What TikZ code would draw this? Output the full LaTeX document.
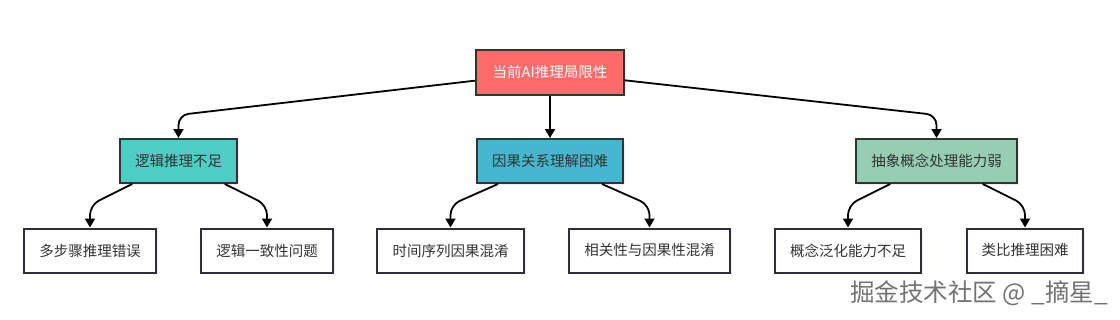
\documentclass[tikz,border=0pt]{standalone}
\usepackage{fontspec}
\setmainfont{Noto Sans CJK SC}
\usetikzlibrary{arrows.meta,shadows,calc}
\definecolor{rootc}{HTML}{FF6B6B}
\definecolor{tealc}{HTML}{4ECDC4}
\definecolor{bluec}{HTML}{45B7D1}
\definecolor{mintc}{HTML}{96CEB4}
\definecolor{bordc}{HTML}{333333}
\definecolor{leafb}{HTML}{2E2E3E}
\definecolor{txtc}{HTML}{333333}
\tikzset{
  box/.style={draw=bordc, line width=2pt, inner sep=0pt, font=\fontsize{14.5}{16}\selectfont,
    text=txtc, drop shadow={shadow xshift=1.5pt, shadow yshift=-1.5pt, opacity=0.12}},
  rootbox/.style={box, fill=rootc, text=white, minimum width=148pt, minimum height=45pt},
  midbox/.style={box, minimum height=44pt},
  leafbox/.style={box, draw=leafb, fill=white, minimum height=44pt},
  conn/.style={draw=black, line width=1.8pt, rounded corners=10pt,
    -{Triangle[length=9pt,width=10pt]}},
}
\begin{document}
\begin{tikzpicture}[x=1pt,y=-1pt]
\useasboundingbox (0,0) rectangle (1120,319);
\fill[white] (0,0) rectangle (1120,319);
% root
\node[rootbox] (root) at (550,72) {当前AI推理局限性};
% level 2
\node[midbox, fill=tealc, minimum width=117pt] (l2a) at (178.5,161) {逻辑推理不足};
\node[midbox, fill=bluec, minimum width=146pt] (l2b) at (550,161) {因果关系理解困难};
\node[midbox, fill=mintc, minimum width=161pt] (l2c) at (936.5,161) {抽象概念处理能力弱};
% level 3
\node[leafbox, minimum width=132pt] (l3a) at (90,250.5) {多步骤推理错误};
\node[leafbox, minimum width=132pt] (l3b) at (267,250.5) {逻辑一致性问题};
\node[leafbox, minimum width=147pt] (l3c) at (450.5,250.5) {时间序列因果混淆};
\node[leafbox, minimum width=161pt] (l3d) at (649.5,250.5) {相关性与因果性混淆};
\node[leafbox, minimum width=146pt] (l3e) at (848,250.5) {概念泛化能力不足};
\node[leafbox, minimum width=116pt] (l3f) at (1025,250.5) {类比推理困难};
% corners
\coordinate (ca) at (178.5,115);
\coordinate (cc) at (936.5,115);
\coordinate (c1) at (90,205);
\coordinate (c2) at (267,205);
\coordinate (c3) at (450.5,205);
\coordinate (c4) at (649.5,205);
\coordinate (c5) at (848,205);
\coordinate (c6) at (1025,205);
% connectors
\draw[conn] (root) -- (ca) -- (l2a.north);
\draw[conn] (root) -- (l2b);
\draw[conn] (root) -- (cc) -- (l2c.north);
\draw[conn] (l2a) -- (c1) -- (l3a.north);
\draw[conn] (l2a) -- (c2) -- (l3b.north);
\draw[conn] (l2b) -- (c3) -- (l3c.north);
\draw[conn] (l2b) -- (c4) -- (l3d.north);
\draw[conn] (l2c) -- (c5) -- (l3e.north);
\draw[conn] (l2c) -- (c6) -- (l3f.north);
% watermark
\node[anchor=east, text=black!55, font=\fontsize{24.5}{28}\selectfont, inner sep=0pt] (wm) at (1108,293) {掘金技术社区 @ \_摘星\_};
\end{tikzpicture}
\end{document}
